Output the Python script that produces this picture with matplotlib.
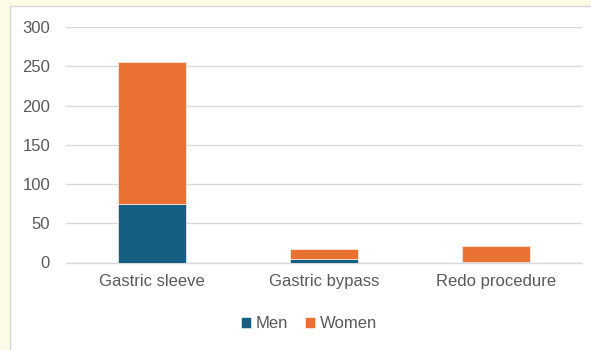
import matplotlib.pyplot as plt
from matplotlib.patches import Rectangle
import numpy as np

categories = ["Gastric sleeve", "Gastric bypass", "Redo procedure"]
men = [74, 5, 1]
women = [181, 12, 20]
yticks = [0, 50, 100, 150, 200, 250, 300]

men_color = "#156082"
women_color = "#E97132"
text_color = "#595959"
grid_color = "#D9D9D9"

plt.rcParams['font.family'] = ['Liberation Sans', 'DejaVu Sans']

W, H = 591, 350
fig = plt.figure(figsize=(W / 100, H / 100), dpi=100, facecolor="#FEFAE8")

# white chart panel
fig.patches.append(Rectangle((10 / W, -0.02), 1.0, (H - 6) / H + 0.02,
                             transform=fig.transFigure, facecolor="white",
                             edgecolor="#D6D6D6", linewidth=1.0, zorder=-10))

ax = fig.add_axes([66 / W, 1 - 262.5 / H, (582 - 66) / W, (262.5 - 27) / H])
ax.set_facecolor("none")

x = np.arange(len(categories))
ax.bar(x, men, width=0.4, color=men_color, edgecolor="white", linewidth=0.4,
       label="Men", zorder=3)
ax.bar(x, women, width=0.4, bottom=men, color=women_color, edgecolor="white",
       linewidth=0.4, label="Women", zorder=3)

ax.set_xlim(-0.5, 2.5)
ax.set_ylim(0, 300)
ax.set_yticks(yticks)
ax.set_xticks(x)
ax.set_xticklabels(categories)
ax.yaxis.grid(True, color=grid_color, linewidth=1.0, zorder=0)
ax.set_axisbelow(True)
for s in ["top", "right", "left"]:
    ax.spines[s].set_visible(False)
ax.spines["bottom"].set_color(grid_color)
ax.spines["bottom"].set_linewidth(1.0)
ax.tick_params(axis="both", length=0, labelsize=12, labelcolor=text_color)
ax.tick_params(axis="y", pad=11.5)
ax.tick_params(axis="x", pad=8)

fig.legend(loc="center", bbox_to_anchor=(309 / W, 1 - 324 / H), ncol=2,
           frameon=False, fontsize=12, labelcolor=text_color,
           handlelength=0.6, handleheight=0.6, handletextpad=0.3,
           columnspacing=1.0)

fig.savefig("out.png", dpi=100, facecolor=fig.get_facecolor())
